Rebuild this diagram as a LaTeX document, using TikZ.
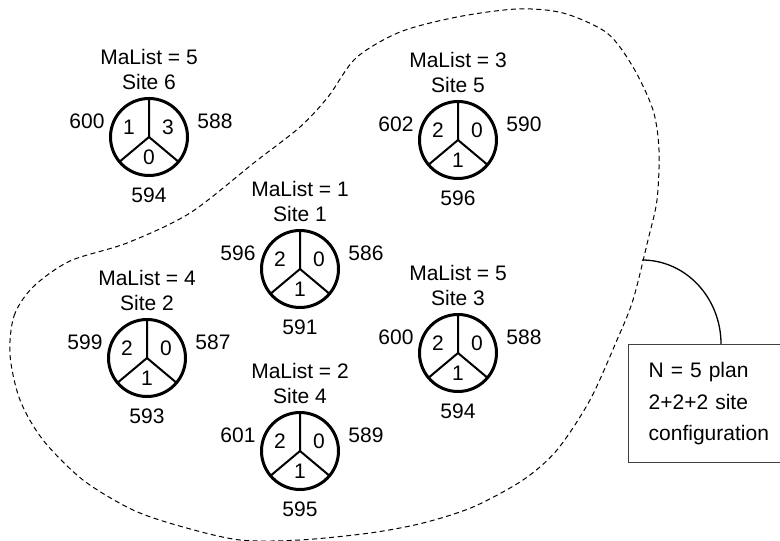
\documentclass[tikz,border=0pt]{standalone}
\usepackage{fontspec}
\setmainfont{Liberation Sans}
\usetikzlibrary{positioning,calc}

\begin{document}
\begin{tikzpicture}[x=1pt,y=-1pt,font=\fontsize{21}{31.5}\selectfont,
  wheel/.style={draw,circle,line width=3pt,minimum size=77pt,inner sep=0pt,outer sep=0pt},
  spoke/.style={line width=2pt},
  zone/.style={dash pattern=on 5pt off 3.5pt,line width=1pt},
  note/.style={draw=black!75,line width=1.4pt,align=left,text width=150pt,inner xsep=20pt,minimum height=118pt,anchor=north west},
  link/.style={line width=1.3pt}]
\useasboundingbox (0,0) rectangle (780,541);
% planning area
\draw[zone] plot[smooth cycle] coordinates {(10,355) (14,316) (33,287) (70,261) (127,243) (190,213) (255,162) (300,127) (328,97) (356,58) (400,32) (457,17) (517,9) (563,13) (607,33) (633,67) (653,110) (659,150) (657,200) (648,240) (633,300) (617,340) (590,400) (557,450) (523,480) (473,507) (423,523) (370,533) (300,540) (240,540) (183,527) (133,510) (83,480) (43,440) (20,400)};
\coordinate (edge) at (642,260);
% sites: name/x/y/MaList/left/right/bottom/sectors
\foreach \nm/\cx/\cy/\ma/\lft/\rgt/\bot/\sa/\sb/\sc in {6/149/137/5/600/588/594/1/3/0,
    5/458/140/3/602/590/596/2/0/1, 1/300/269/1/596/586/591/2/0/1,
    2/147/358/4/599/587/593/2/0/1, 3/458/353/5/600/588/594/2/0/1,
    4/300/451/2/601/589/595/2/0/1}{
  \node[wheel] (s\nm) at (\cx,\cy) {};
  \draw[spoke] (s\nm.center) -- (s\nm.90) (s\nm.center) -- (s\nm.220) (s\nm.center) -- (s\nm.320);
  \node (a\nm) at ([shift={(-20,-10)}]s\nm.center) {\sa};
  \node (b\nm) at ([shift={(19,-10)}]s\nm.center) {\sb};
  \node (c\nm) at ([shift={(0,20)}]s\nm.center) {\sc};
  \node (l\nm) at ([shift={(-62,-16)}]s\nm.center) {\lft};
  \node (r\nm) at ([shift={(66,-16)}]s\nm.center) {\rgt};
  \node (d\nm) at ([shift={(0,58)}]s\nm.center) {\bot};
  \node (t\nm) at ([shift={(0,-55)}]s\nm.center) {Site \nm};
  \node (m\nm) at ([shift={(0,-80)}]s\nm.center) {MaList = \ma};
}
\node[note] (plan) at (628,344) {N = 5 plan\\2+2+2 site\\configuration};
\coordinate (tap) at ([xshift=93pt]plan.north west);
\draw[link] (edge) .. controls +(44,0) and +(0,-46) .. (tap);
\end{tikzpicture}
\end{document}
